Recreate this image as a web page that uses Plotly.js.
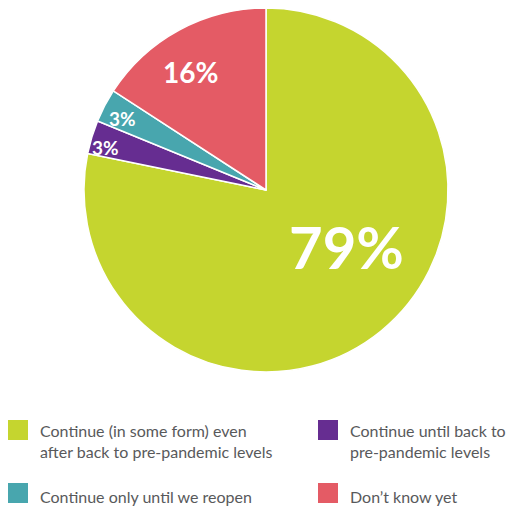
<!DOCTYPE html>
<html><head><meta charset="utf-8">
<script src="https://cdn.plot.ly/plotly-3.0.1.min.js"></script>
<style>html,body{margin:0;padding:0;background:#fff;}#chart{width:507px;height:506px;}</style>
</head><body><div id="chart"></div>
<script>
// ---- data ----
const categories = [
  "Continue (in some form) even<br>after back to pre-pandemic levels",
  "Continue until back to<br>pre-pandemic levels",
  "Continue only until we reopen",
  "Don’t know yet"
];
const values = [79, 3, 3, 16];
const colors = ["#C5D52F", "#662D91", "#48A6AE", "#E45B65"];

// ---- style / layout constants ----
const W = 507, H = 506;
const pcx = 266, pcy = 190, pr = 182;          // pie centre & radius in px
const labelFont = [58, 19, 19, 28];
const labelRadius = [0.54, 0.91, 0.88, 0.77];
const labelAngleShift = [-16, -2, -1, -4];
const legendCol = [8, 318];
const legendRow = [441, 496];

const dom = {
  x: [(pcx - pr) / W, (pcx + pr) / W],
  y: [(H - pcy - pr) / H, (H - pcy + pr) / H]
};
const total = values.reduce((a, b) => a + b, 0);
const annotations = [];
const shapes = [];
let cum = 0;
values.forEach((v, i) => {
  const mid = (cum + v / 2) / total * 360 + labelAngleShift[i];
  cum += v;
  const t = mid * Math.PI / 180;
  const px = pcx + labelRadius[i] * pr * Math.sin(t);
  const py = pcy - labelRadius[i] * pr * Math.cos(t);
  annotations.push({
    x: px / W, y: 1 - py / H, xref: "paper", yref: "paper",
    text: v + "%",
    showarrow: false, xanchor: "center", yanchor: "middle",
    font: { family: "Lato, sans-serif", size: labelFont[i], color: "#ffffff", weight: 700 }
  });
});
// legend (2 columns, order: row-major)
categories.forEach((c, i) => {
  const col = i % 2, row = Math.floor(i / 2);
  const x0 = legendCol[col], yc = legendRow[row];
  const sqY = row === 0 ? 430 : yc - 3;
  shapes.push({
    type: "rect", xref: "paper", yref: "paper",
    x0: x0 / W, x1: (x0 + 20) / W, y0: 1 - (sqY - 10) / H, y1: 1 - (sqY + 10) / H,
    fillcolor: colors[i], line: { width: 0 }
  });
  annotations.push({
    x: (x0 + 30) / W, y: 1 - yc / H, xref: "paper", yref: "paper",
    text: c, showarrow: false, xanchor: "left", yanchor: "middle", align: "left",
    font: { family: "Lato, sans-serif", size: 16, color: "#58595B" }
  });
});

const trace = {
  type: "pie",
  values: values,
  labels: categories,
  marker: { colors: colors, line: { color: "#ffffff", width: 1.5 } },
  sort: false,
  direction: "clockwise",
  rotation: 0,
  textinfo: "none",
  hoverinfo: "label+percent",
  domain: dom,
  showlegend: false
};

Plotly.newPlot("chart", [trace], {
  width: W, height: H,
  margin: { l: 0, r: 0, t: 0, b: 0 },
  paper_bgcolor: "#ffffff",
  showlegend: false,
  annotations: annotations,
  shapes: shapes
}, { displayModeBar: false, staticPlot: true });
</script>
</body></html>
